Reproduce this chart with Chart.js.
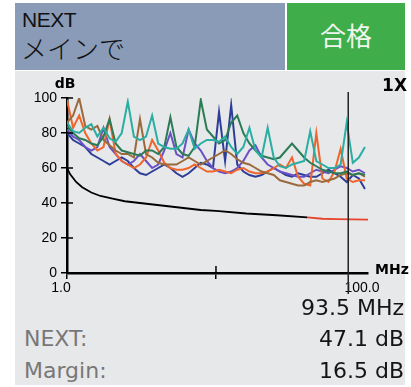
<!DOCTYPE html>
<html lang="ja">
<head>
<meta charset="UTF-8">
<title>NEXT</title>
<script src="https://cdn.jsdelivr.net/npm/chart.js"></script>
<style>
  body { margin: 0; width: 411px; height: 387px; background: #fff; position: relative; overflow: hidden; font-family: "DejaVu Sans", sans-serif; }
  .box { position: absolute; }
  #hdrLeft { left: 15px; top: 3px; width: 270px; height: 67px; background: #8a9bb8; }
  #hdrRight { left: 287px; top: 3px; width: 118px; height: 67px; background: #40ad4b; }
  #panel { left: 15px; top: 71px; width: 390px; height: 314px; background: #e7e8ea; }
  #chartBox { left: 15px; top: 71px; width: 396px; height: 229px; }
  .t1 { font-family: "Liberation Sans", sans-serif; font-size: 21px; color: #111; left: 22px; top: 8px; letter-spacing: -0.5px; }
  .t2 { font-family: "Noto Sans CJK JP", sans-serif; font-size: 26px; font-weight: 300; color: #111; left: 21px; top: 29px; }
  .pass { font-family: "Noto Sans CJK JP", sans-serif; font-size: 26px; color: #eef6ee; left: 287px; width: 118px; text-align: center; top: 16px; }
  .lbl { font-size: 22px; color: #777; left: 24px; }
  .val { font-size: 22px; color: #151515; right: 7px; }
</style>
</head>
<body>
<div class="box" id="hdrLeft"></div>
<div class="box" id="hdrRight"></div>
<div class="box" id="panel"></div>
<div class="box t1">NEXT</div>
<div class="box t2">メインで</div>
<div class="box pass">合格</div>
<div class="box" id="chartBox"><canvas id="c"></canvas></div>
<div class="box val" style="top:295px">93.5 MHz</div>
<div class="box lbl" style="top:326px">NEXT:</div>
<div class="box val" style="top:326px">47.1 dB</div>
<div class="box lbl" style="top:358px">Margin:</div>
<div class="box val" style="top:358px">16.5 dB</div>
<script>
// frequency grid (MHz) for the measured pairs
const freq = [1,3,5,7,9,11,13,15,17,19,21,23,25,27,29,31,33,35,37,39,41,43,45,47,49,
              51,53,55,57,59,61,63,65,67,69,71,73,75,77,79,81,83,85,87,89,91,93,95,97,99];

const teal = [86,81,80,83,85,78,83,77,75,80,98,78,76,78,90,74,72,71,71,74,82,71,74,76,76,
              75,78,72,68,72,83,70,66,83,66,61,60,62,63,64,81,64,62,60,60,62,86,63,66,72];
const green = [84,80,77,76,74,73,78,88,74,70,69,68,67,70,70,68,72,89,72,68,67,72,99,82,78,
               74,76,86,90,80,74,70,67,66,65,66,70,74,70,66,63,61,59,58,57,57,58,56,57,56];
const brown = [86,90,100,84,82,84,76,73,70,68,68,66,88,68,66,63,62,62,62,64,66,64,62,64,66,
               68,70,68,65,63,62,60,58,57,56,53,52,51,50,50,52,53,52,53,54,56,57,56,57,55];
const orange = [99,83,90,80,74,70,72,88,68,64,62,60,62,66,76,70,63,60,59,59,60,62,60,58,58,
                59,58,57,59,60,58,57,57,58,60,62,60,66,55,51,50,80,54,52,58,71,54,52,53,53];
const purple = [82,78,76,72,70,72,83,72,68,64,62,64,68,64,60,62,70,80,68,66,82,74,70,64,60,
                58,57,58,60,64,70,73,66,62,60,58,57,56,55,55,57,59,58,57,59,61,60,58,59,57];
const blue = [80,76,74,72,68,66,64,62,64,66,64,60,57,56,58,60,62,60,57,55,57,60,63,62,60,
              92,64,96,62,58,56,55,56,58,60,58,56,55,57,56,55,55,57,59,57,55,52,56,54,48];

// limit line
const limitFreq = [1,2,4,6,9,12,16,20,25,30,35,40,45,50,60,70,80];
const limitDb = [60,56.5,52,49,46,44,42.5,41,40,39,38,37,36,35.5,34,33,31.8];
const worstFreq = [80,85,90,95,100];
const worstDb = [31.8,31,30.8,30.6,30.5];

const cursorMHz = 93.5;

const toPts = (xs, ys) => xs.map((x, i) => ({ x: x, y: ys[i] }));
const pair = (data, color) => ({
  data: toPts(freq, data), borderColor: color, borderWidth: 2,
  pointRadius: 0, tension: 0, fill: false
});

const extras = {
  id: 'extras',
  afterDraw(chart) {
    const ctx = chart.ctx;
    const a = chart.chartArea;
    const xs = chart.scales.x, ys = chart.scales.y;
    ctx.save();
    // inner halves of tick marks
    ctx.strokeStyle = '#000';
    ctx.lineWidth = 1.5;
    ys.ticks.forEach(t => {
      const y = ys.getPixelForValue(t.value);
      ctx.beginPath(); ctx.moveTo(a.left, y); ctx.lineTo(a.left + 6, y); ctx.stroke();
    });
    const xm = xs.getPixelForValue(50);
    ctx.beginPath(); ctx.moveTo(xm, a.bottom); ctx.lineTo(xm, a.bottom - 7); ctx.stroke();
    // cursor
    const cx = xs.getPixelForValue(cursorMHz);
    ctx.strokeStyle = '#222';
    ctx.lineWidth = 1.5;
    ctx.beginPath(); ctx.moveTo(cx, a.top - 6); ctx.lineTo(cx, a.bottom + 21); ctx.stroke();
    // axis titles
    ctx.fillStyle = '#000';
    ctx.font = 'bold 14px "DejaVu Sans"';
    ctx.textAlign = 'center';
    ctx.textBaseline = 'middle';
    ctx.fillText('dB', a.left - 2, a.top - 14);
    ctx.textAlign = 'left';
    ctx.fillText('MHz', a.right + 7, a.bottom - 3);
    ctx.font = 'bold 17px "DejaVu Sans"';
    ctx.textAlign = 'right';
    ctx.fillText('1X', a.right + 39, a.top - 11);
    ctx.restore();
  }
};

new Chart(document.getElementById('c'), {
  type: 'line',
  data: {
    datasets: [
      pair(teal, '#2aaea3'),
      pair(green, '#2b7b57'),
      pair(brown, '#9a6a3c'),
      pair(orange, '#f0652b'),
      pair(purple, '#6a50c6'),
      pair(blue, '#2c3e98'),
      { data: toPts(limitFreq, limitDb), borderColor: '#000', borderWidth: 1.8, pointRadius: 0, tension: 0 },
      { data: toPts(worstFreq, worstDb), borderColor: '#e8442c', borderWidth: 1.8, pointRadius: 0, tension: 0 }
    ]
  },
  options: {
    responsive: true,
    maintainAspectRatio: false,
    animation: false,
    layout: { padding: { left: 0, right: 43, top: 27, bottom: 0 } },
    plugins: { legend: { display: false }, tooltip: { enabled: false } },
    scales: {
      x: {
        type: 'linear', min: 1, max: 100,
        afterBuildTicks: s => { s.ticks = [{ value: 1 }, { value: 50 }, { value: 100 }]; },
        afterFit: s => { s.height = 27; },
        ticks: {
          color: '#000', font: { family: 'Liberation Sans', size: 14 }, padding: 1, maxRotation: 0,
          labelOffset: -6,
          callback: v => v === 1 ? '1.0' : (v === 100 ? '100.0' : '')
        },
        grid: { drawOnChartArea: false, tickLength: 6, lineWidth: 1.5,
                color: c => (c.tick && c.tick.value === 100) ? 'rgba(0,0,0,0)' : '#000' },
        border: { color: '#000', width: 2.5 }
      },
      y: {
        min: 0, max: 100,
        ticks: { stepSize: 20, color: '#000', font: { family: 'Liberation Sans', size: 14 }, padding: 4 },
        afterFit: s => { s.width = 52; },
        grid: { drawOnChartArea: false, tickLength: 6, lineWidth: 1.5, color: '#000' },
        border: { color: '#000', width: 2.5 }
      }
    }
  },
  plugins: [extras]
});
</script>
</body>
</html>
